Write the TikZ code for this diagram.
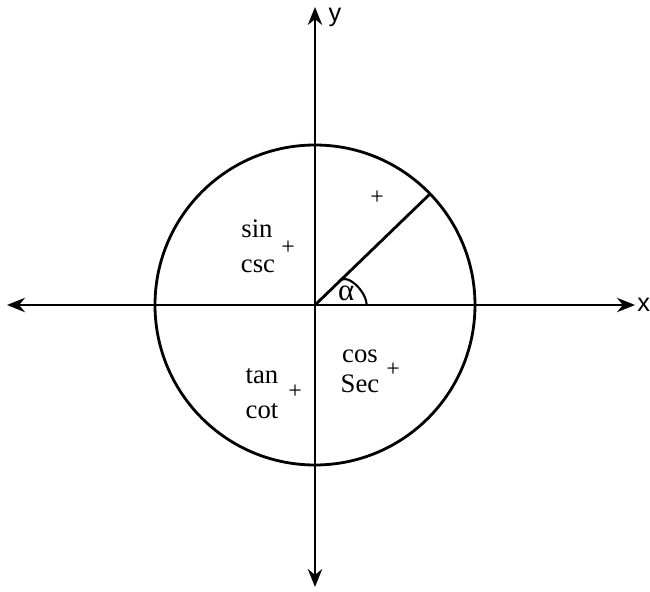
\documentclass[tikz,border=0pt]{standalone}
\usepackage{fontspec}
\setmainfont{Liberation Serif}
\newfontfamily\axisfont{Liberation Sans}
\usetikzlibrary{arrows.meta}

\begin{document}
\begin{tikzpicture}[>={Stealth[length=4.5mm,width=3.6mm]}, font=\fontsize{19}{21}\selectfont,
  axis/.style={<->, line width=1.5pt},
  ring/.style={line width=2pt},
  fn/.style={anchor=base, inner sep=0pt},
  sgn/.style={font=\fontsize{17}{18}\selectfont, inner sep=0pt},
  lbl/.style={font=\axisfont\fontsize{18}{20}\selectfont, inner sep=0pt}]
\useasboundingbox (-7.875,-7.15) rectangle (8.375,7.625);
\coordinate (O)  at (0,0);
\coordinate (xl) at (-7.7,0);
\coordinate (xr) at (8.0,0);
\coordinate (yt) at (0,7.45);
\coordinate (yb) at (0,-7.05);
\coordinate (P)  at (44:4);
\coordinate (a1) at (44:0.8);
\coordinate (a2) at (1.29,0);

\draw[axis] (xl) -- (xr);
\draw[axis] (yb) -- (yt);
\node[lbl] (xlab) at (8.22,0) {x};
\node[lbl] (ylab) at (0.5,7.2) {y};

\draw[ring] (O) circle (4);
\draw[ring] (O) -- (P);
\draw[line width=1.5pt] (a1) to[out=60,in=90] (a2);
\node[font=\fontsize{22}{24}\selectfont, inner sep=0pt] (alpha) at (0.78,0.3) {α};

% quadrant signs
\node[fn] (sin) at (-1.45,1.70)  {sin};
\node[fn] (csc) at (-1.425,0.825) {csc};
\node[sgn] (p2) at (-0.675,1.425) {+};
\node[sgn] (p1) at (1.55,2.675)   {+};
\node[fn] (tan) at (-1.325,-1.95) {tan};
\node[fn] (cot) at (-1.325,-2.825){cot};
\node[sgn] (p3) at (-0.5,-2.175)  {+};
\node[fn] (cos) at (1.125,-1.425) {cos};
\node[fn] (sec) at (1.125,-2.175) {Sec};
\node[sgn] (p4) at (1.95,-1.625)  {+};
\end{tikzpicture}
\end{document}
